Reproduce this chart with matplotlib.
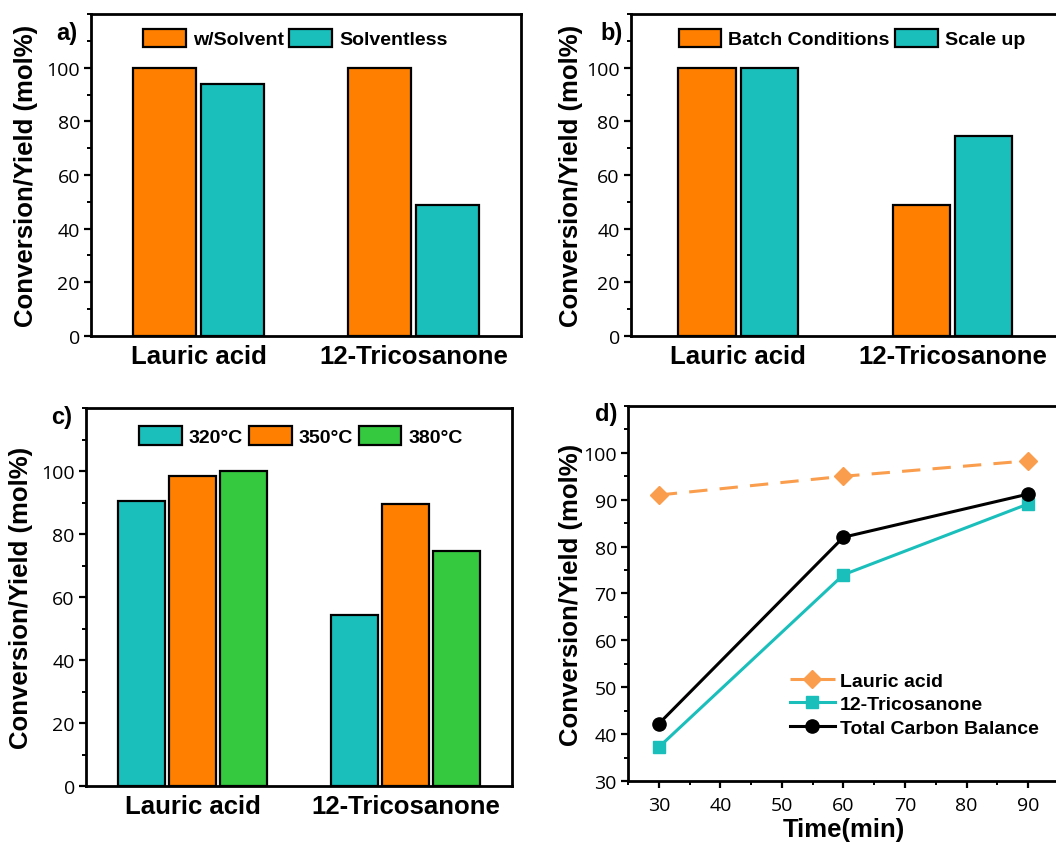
import matplotlib
matplotlib.use("Agg")
import matplotlib.pyplot as plt
import numpy as np
from matplotlib.ticker import MultipleLocator

# data
categories = ["Lauric acid", "12-Tricosanone"]

a_solvent = [100, 100]
a_solventless = [94, 49]

b_batch = [100, 49]
b_scaleup = [100, 74.6]

c_320 = [90.4, 54.3]
c_350 = [98.3, 89.5]
c_380 = [100, 74.7]

d_time = [30, 60, 90]
d_lauric = [91, 95, 98.3]
d_trico = [37.2, 74, 89.1]
d_total = [42.2, 82, 91.2]

ORANGE = "#FF8000"
TEAL = "#1ABFBC"
GREEN = "#35C940"
LORANGE = "#FA9E4E"

BOLD = "Liberation Sans"
plt.rcParams["font.family"] = ["Open Sans", "DejaVu Sans"]
plt.rcParams["axes.linewidth"] = 2.0

fig = plt.figure(figsize=(10.56, 8.45), dpi=100)
ax_a = fig.add_axes([0.0862, 0.6012, 0.4072, 0.381])
ax_b = fig.add_axes([0.5975, 0.6012, 0.4062, 0.381])
ax_c = fig.add_axes([0.0814, 0.0686, 0.4034, 0.4473])
ax_d = fig.add_axes([0.5947, 0.0746, 0.4081, 0.4438])

YLABEL = "Conversion/Yield (mol%)"


def style_axes(ax, label_x, letter, letter_xy):
    ax.tick_params(axis="y", which="major", direction="out", length=5, width=1.6,
                   labelsize=14, pad=3)
    ax.tick_params(axis="y", which="minor", direction="out", length=3, width=1.4)
    ax.set_ylabel(YLABEL, fontsize=18.5, fontweight="bold", family=BOLD)
    ax.yaxis.set_label_coords(label_x, 0.5)
    ax.text(letter_xy[0], letter_xy[1], letter, transform=ax.transAxes,
            fontsize=17, fontweight="bold", family=BOLD, ha="left", va="center")


def bar_panel(ax, series, colors, labels, width, offset, leg_xy):
    x = np.arange(len(categories))
    n = len(series)
    for i, (vals, col, lab) in enumerate(zip(series, colors, labels)):
        pos = x + (i - (n - 1) / 2) * offset
        ax.bar(pos, vals, width, color=col, edgecolor="black", linewidth=1.6, label=lab)
    ax.set_xlim(-0.5, 1.5)
    ax.set_ylim(0, 120)
    ax.set_xticks(x)
    ax.set_xticklabels(categories, fontsize=18.5, fontweight="bold", family=BOLD)
    ax.tick_params(axis="x", length=0, pad=6)
    ax.set_yticks([0, 20, 40, 60, 80, 100])
    ax.yaxis.set_minor_locator(MultipleLocator(10))
    ax.legend(loc="upper left", bbox_to_anchor=leg_xy, ncol=n, frameon=False,
              borderpad=0, borderaxespad=0, handlelength=2.2, handleheight=1.1,
              handletextpad=0.35, columnspacing=0.3,
              prop={"family": BOLD, "weight": "bold", "size": 14})


bar_panel(ax_a, [a_solvent, a_solventless], [ORANGE, TEAL],
          ["w/Solvent", "Solventless"], 0.29, 0.315, (0.121, 0.955))
style_axes(ax_a, -0.123, "a)", (-0.081, 0.944))

bar_panel(ax_b, [b_batch, b_scaleup], [ORANGE, TEAL],
          ["Batch Conditions", "Scale up"], 0.267, 0.29, (0.111, 0.955))
style_axes(ax_b, -0.112, "b)", (-0.072, 0.944))

bar_panel(ax_c, [c_320, c_350, c_380], [TEAL, ORANGE, GREEN],
          ["320°C", "350°C", "380°C"], 0.22, 0.239, (0.125, 0.952))
style_axes(ax_c, -0.124, "c)", (-0.082, 0.979))

# panel d: time course
ax_d.plot(d_time, d_lauric, color=LORANGE, linestyle=(0, (6, 4)), linewidth=2.2,
          marker="D", markersize=9, label="Lauric acid")
ax_d.plot(d_time, d_trico, color=TEAL, linewidth=2.2, marker="s", markersize=9,
          label="12-Tricosanone")
ax_d.plot(d_time, d_total, color="black", linewidth=2.2, marker="o", markersize=9.5,
          label="Total Carbon Balance")
ax_d.set_xlim(25, 95)
ax_d.set_ylim(30, 110)
ax_d.set_xticks([30, 40, 50, 60, 70, 80, 90])
ax_d.xaxis.set_minor_locator(MultipleLocator(5))
ax_d.set_yticks([30, 40, 50, 60, 70, 80, 90, 100])
ax_d.yaxis.set_minor_locator(MultipleLocator(5))
ax_d.tick_params(axis="x", which="major", direction="out", length=5, width=1.6,
                 labelsize=14, pad=6)
ax_d.tick_params(axis="x", which="minor", direction="out", length=3, width=1.4)
ax_d.set_xlabel("Time(min)", fontsize=18.5, fontweight="bold", family=BOLD, labelpad=2)
style_axes(ax_d, -0.104, "d)", (-0.076, 0.979))
ax_d.legend(loc="upper left", bbox_to_anchor=(0.376, 0.29), frameon=False,
            borderpad=0, borderaxespad=0, handlelength=2.3, handletextpad=0.25,
            labelspacing=0.3, prop={"family": BOLD, "weight": "bold", "size": 14})

fig.savefig("out.png", dpi=100)
